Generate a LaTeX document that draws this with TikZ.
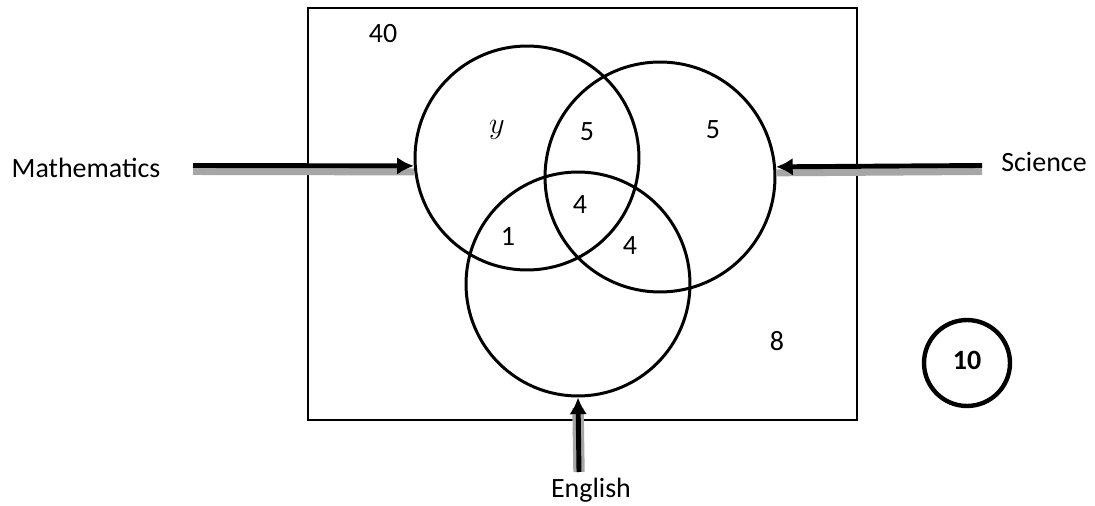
\documentclass[tikz,border=0pt]{standalone}
\usepackage{fontspec}
\setmainfont{Carlito}
\usetikzlibrary{arrows.meta, positioning}
\tikzset{
    venn/.style={font=\fontsize{15.9}{19}\selectfont},
    venn set/.style={circle, draw, line width=1.7pt, inner sep=0pt},
    venn count/.style={anchor=base, inner sep=0pt},
    set name/.style={anchor=base, inner sep=0pt},
    pointer/.style={-{Latex[length=9.5pt,width=10pt]}, line width=2.8pt},
    pointer shade/.style={line width=4pt, black!35},
}
\begin{document}
\begin{tikzpicture}[venn, x=0.02cm, y=-0.02cm]
    \useasboundingbox (0,0) rectangle (1095,506);
    % universal set and the three sets
    \draw[line width=1.2pt] (308,8) rectangle (857,420);
    \node[venn set, minimum size=4.48cm] (math) at (527,158) {};
    \node[venn set, minimum size=4.6cm] (sci) at (660,177) {};
    \node[venn set, minimum size=4.48cm] (engl) at (578,284) {};

    % counts
    \node[venn count] (outside) at (383,43) {40};
    \node[venn count] (onlymath) at (497,134) {$y$};
    \node[venn count] (mathsci) at (587,141) {5};
    \node[venn count] (onlysci) at (713,139) {5};
    \node[venn count] (allthree) at (580,214) {4};
    \node[venn count] (matheng) at (508,246) {1};
    \node[venn count] (scieng) at (630,255) {4};
    \node[venn count] (onlyeng) at (777,351) {8};
    \node[circle, draw, line width=2.5pt, minimum size=1.72cm, inner sep=0pt] (total) at (967,363) {};
    \node[venn count, font=\fontsize{15.9}{19}\selectfont\bfseries] (totalnum) at (967,370) {10};

    % set names with pointers
    \node[set name] (mathname) at (86,178) {Mathematics};
    \node[set name] (sciname) at (1044,172) {Science};
    \node[set name] (englname) at (591,497) {English};
    \coordinate (mathtail) at (193,165.5);
    \coordinate (scitail) at (982,165.5);
    \coordinate (engltail) at (579,472);
    \draw[pointer shade] ([yshift=-3.4pt]mathtail) -- ([yshift=-3.4pt]math.184);
    \draw[pointer shade] ([yshift=-3.4pt]scitail) -- ([yshift=-3.4pt]sci.5.7);
    \draw[pointer shade, line width=6.5pt] (engltail) -- ([yshift=-6pt]engl.south);
    \draw[pointer] (mathtail) -- (math.184);
    \draw[pointer] (scitail) -- (sci.5.7);
    \draw[pointer] (engltail) -- (engl.south);
\end{tikzpicture}
\end{document}
